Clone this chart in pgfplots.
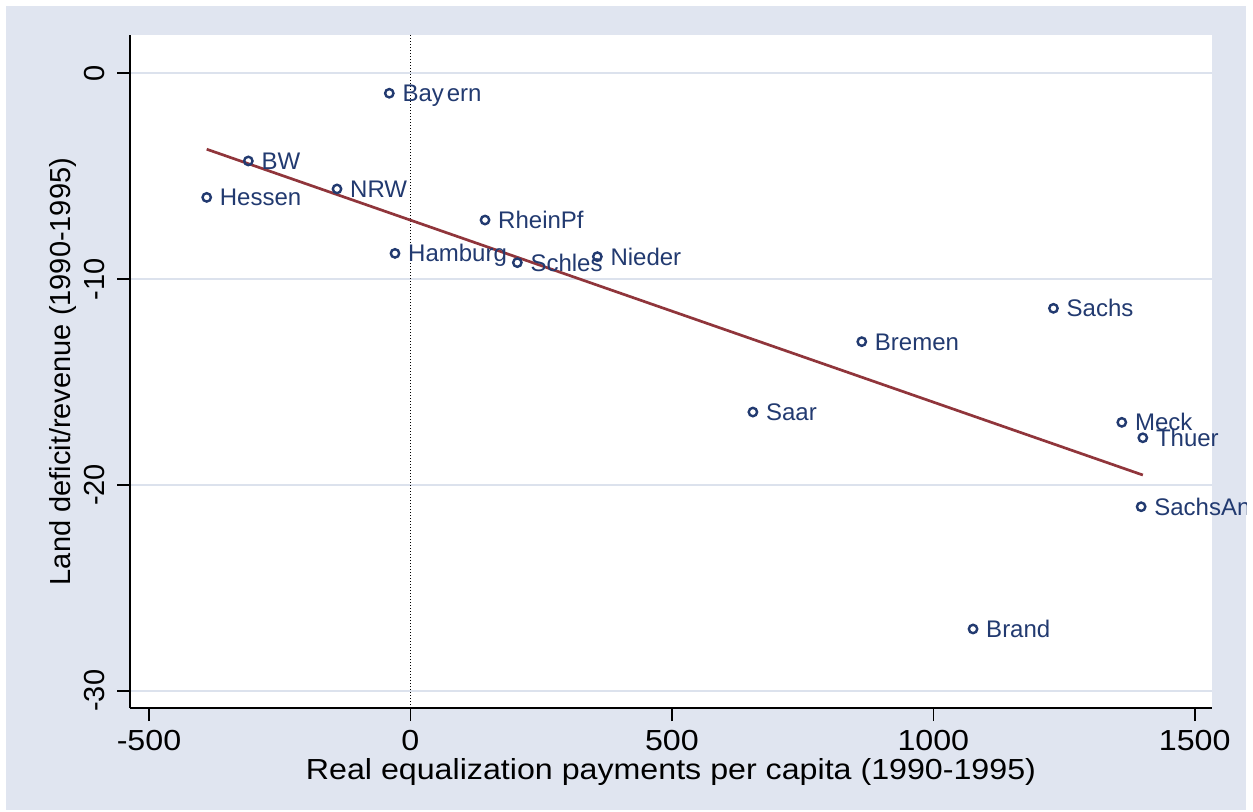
\documentclass[border=0pt]{standalone}
\usepackage{pgfplots}
\pgfplotsset{compat=1.18}
\usepackage{fontspec}
\setmainfont{Liberation Sans}
\newfontfamily\widefont{Liberation Sans}[FakeStretch=1.11]
\definecolor{bgc}{RGB}{224,229,240}
\definecolor{gridc}{RGB}{220,226,237}
\definecolor{navyc}{RGB}{34,58,112}
\definecolor{maroonc}{RGB}{144,53,59}
\begin{document}
\begin{tikzpicture}
\useasboundingbox (0pt,0pt) rectangle (626.5pt,405.5pt);
\fill[white] (0pt,0pt) rectangle (626.5pt,405.5pt);
\begin{scope}
\clip (3pt,0.5pt) rectangle (623pt,402.5pt);
\fill[bgc] (3pt,0.5pt) rectangle (623pt,402.5pt);
\begin{axis}[
  at={(65pt,51.5pt)}, anchor=south west,
  scale only axis, width=541pt, height=336.5pt,
  xmin=-536.3, xmax=1533, ymin=-30.84, ymax=1.86,
  axis x line*=bottom, axis y line*=left,
  axis line style={line width=0.9pt, -},
  axis background/.style={fill=white},
  clip=false,
  xtick={-500,0,500,1000,1500}, xticklabels={-500,0,500,1000,1500},
  ytick={-30,-20,-10,0}, yticklabels={-30,-20,-10,0},
  tick align=outside, major tick length=6.5pt,
  tick style={line width=0.8pt, black},
  ymajorgrids, grid style={gridc, line width=1.1pt},
  xticklabel style={font=\widefont\fontsize{14.5}{17}\selectfont, anchor=north, inner sep=0pt},
  yticklabel style={font=\fontsize{14.5}{17}\selectfont, rotate=90, anchor=south, inner sep=0pt},
  xticklabel shift=4.6pt, yticklabel shift=6pt,
  xlabel={Real equalization payments per capita (1990-1995)},
  ylabel={Land deficit/revenue (1990-1995)},
  xlabel style={font=\widefont\fontsize{14.5}{17}\selectfont, at={(axis description cs:0.5,-0.1055)}, anchor=base},
  ylabel style={font=\fontsize{14.5}{17}\selectfont, at={(axis description cs:-0.05545,0.5)}, anchor=base},
]
\addplot[black, line width=0.5pt, dash pattern=on 0.5pt off 1pt] coordinates {(0,-30.84) (0,1.86)};
\addplot[only marks, mark=o, mark size=2.1pt, navyc, mark options={line width=1.2pt},
  nodes near coords, point meta=explicit symbolic,
  every node near coord/.append style={anchor=base west, inner sep=0pt, xshift=6pt, yshift=-4.3pt,
    font=\fontsize{12}{14}\selectfont, text=navyc}]
coordinates {
(-40.4,-0.97) [Bay\kern1.5pt ern]
(-310,-4.26) [BW]
(-389.6,-6.03) [Hessen]
(-140.4,-5.62) [NRW]
(142.7,-7.13) [RheinPf]
(-29.5,-8.75) [Hamburg]
(204.5,-9.20) [Schles]
(357.5,-8.91) [Nieder]
(1229.8,-11.42) [Sachs]
(863.2,-13.04) [Bremen]
(655,-16.46) [Saar]
(1360.5,-16.96) [Meck]
(1400.7,-17.71) [Thuer]
(1397.5,-21.06) [SachsAn]
(1076,-27.0) [Brand]
};
\addplot[maroonc, line width=1.35pt] coordinates {(-389.6,-3.69) (1400.7,-19.52)};
\end{axis}
\end{scope}
\end{tikzpicture}
\end{document}
